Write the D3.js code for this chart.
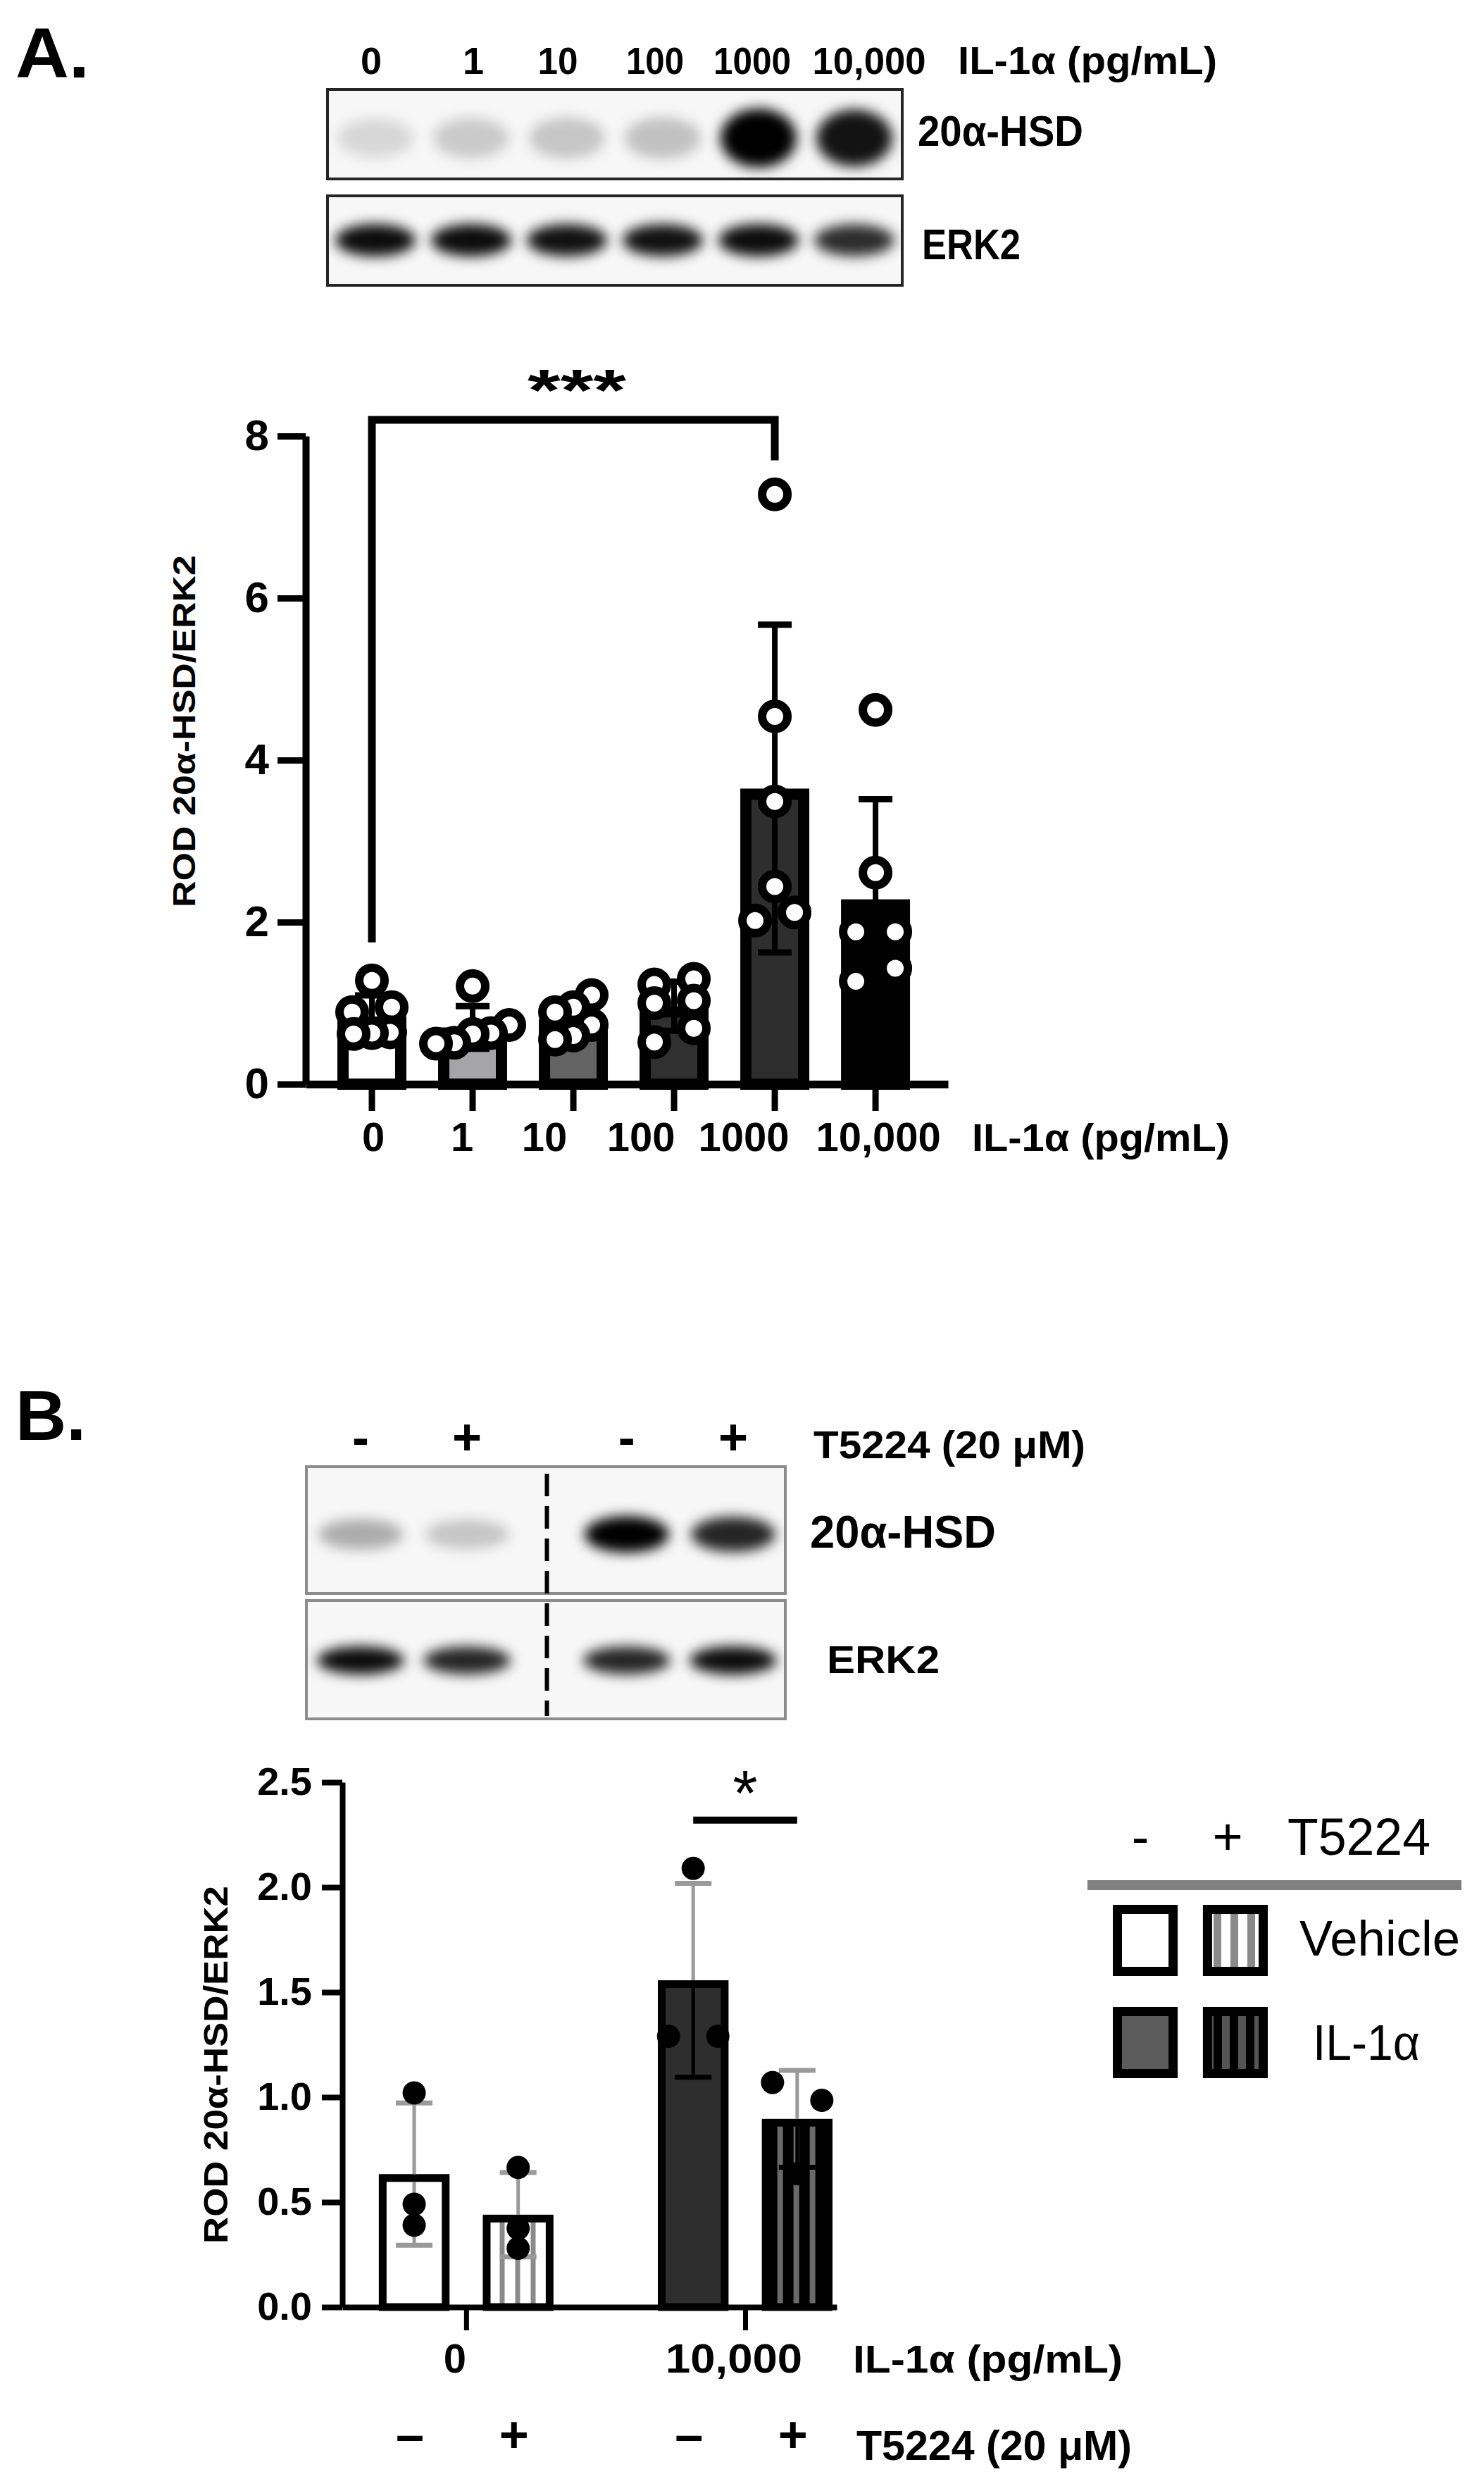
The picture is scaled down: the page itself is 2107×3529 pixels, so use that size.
<!DOCTYPE html>
<html lang="en">
<head>
<meta charset="UTF-8">
<title>20α-HSD / ERK2</title>
<script src="https://d3js.org/d3.v7.min.js"></script>
<style>
  body { margin: 0; background: #fff; }
  svg { display: block; font-family: "Liberation Sans", Arial, sans-serif; }
</style>
</head>
<body>
<div id="chart"></div>
<script>
// ---------- panel A data ----------
const catsA = ["0", "1", "10", "100", "1000", "10,000"];
const pointsA = [
  [1.28, 0.95, 0.89, 0.64, 0.63, 0.62],
  [1.21, 0.73, 0.63, 0.62, 0.51, 0.50],
  [1.10, 0.95, 0.89, 0.73, 0.60, 0.55],
  [1.30, 1.23, 1.03, 1.00, 0.69, 0.52],
  [7.28, 4.54, 3.49, 2.44, 2.12, 2.02],
  [4.62, 2.61, 1.88, 1.88, 1.43, 1.27]
];
const fillsA = ["#ffffff", "#a4a4a9", "#636363", "#303030", "#2e2e2e", "#000000"];
const ticksA = [0, 2, 4, 6, 8];
const hsdA = [0.13, 0.18, 0.2, 0.22, 1.0, 0.92];   // band darkness, blot A
const erkA = [0.95, 0.95, 0.93, 0.93, 0.95, 0.82];
const bracketA = { from: "0", to: "1000", top: 8.2, leftEnd: 1.75, rightEnd: 7.7, label: "***" };

// ---------- panel B data ----------
const groupsB = ["0", "10,000"];
const treatB = ["-", "+"];
const condB = [["0", "-"], ["0", "+"], ["10,000", "-"], ["10,000", "+"]];
const pointsB = [
  [1.02, 0.49, 0.39],
  [0.665, 0.375, 0.28],
  [2.09, 1.29, 1.29],
  [1.07, 0.985, 0.635]
];
const ticksB = [0, 0.5, 1.0, 1.5, 2.0, 2.5];
const hsdB = [0.3, 0.2, 1.0, 0.85];
const erkB = [0.95, 0.85, 0.85, 0.95];
const sigB = { group: "10,000", y: 2.32, starY: 2.51, label: "*" };
const legendRows = ["Vehicle", "IL-1α"];

const W = 2107, H = 3529;
const svg = d3.select("#chart").append("svg")
  .attr("width", W).attr("height", H).attr("viewBox", `0 0 ${W} ${H}`);
const defs = svg.append("defs");
defs.append("filter").attr("id", "blur")
  .attr("x", "-50%").attr("y", "-50%").attr("width", "200%").attr("height", "200%")
  .append("feGaussianBlur").attr("stdDeviation", 9);

function stripes(id, bg, fg, period, sw, x0) {
  const p = defs.append("pattern").attr("id", id)
    .attr("patternUnits", "userSpaceOnUse").attr("width", period).attr("height", 10)
    .attr("patternTransform", `translate(${x0},0)`);
  p.append("rect").attr("width", period).attr("height", 10).attr("fill", bg);
  p.append("rect").attr("width", sw).attr("height", 10).attr("fill", fg);
  return `url(#${id})`;
}

function label(g, str, x, y, o = {}) {
  const t = g.append("text").attr("x", x).attr("y", y).text(str)
    .attr("font-size", o.size || 56)
    .attr("font-weight", o.weight || "bold")
    .attr("text-anchor", o.anchor || "start")
    .attr("fill", "#000");
  if (o.width) t.attr("textLength", o.width).attr("lengthAdjust", "spacingAndGlyphs");
  if (o.rotate) t.attr("transform", `rotate(-90,${x},${y})`);
  return t;
}

// group points that sit at nearly the same height and spread them sideways
function spread(vals, y, thresh, step, dir) {
  const sorted = vals.slice().sort((a, b) => b - a);
  const groups = [];
  sorted.forEach(v => {
    const g = groups[groups.length - 1];
    if (g && Math.abs(y(g[0]) - y(v)) < thresh) g.push(v); else groups.push([v]);
  });
  const out = [];
  groups.forEach(g => {
    const s = g.length === 2 ? step.pair : step.many;
    g.forEach((v, k) => out.push({ v, dx: dir * ((g.length - 1) / 2 - k) * s }));
  });
  return out;
}

function blot(g, id, box, xs, vals, cy, rx, ry0, ryGain, border) {
  defs.append("clipPath").attr("id", id).append("rect")
    .attr("x", box.x).attr("y", box.y).attr("width", box.w).attr("height", box.h);
  g.append("rect").attr("x", box.x).attr("y", box.y).attr("width", box.w).attr("height", box.h)
    .attr("fill", "#f7f7f7");
  g.append("g").attr("clip-path", `url(#${id})`)
    .append("g").attr("filter", "url(#blur)")
    .selectAll("ellipse").data(vals).join("ellipse")
    .attr("cx", (d, i) => xs[i]).attr("cy", cy)
    .attr("rx", rx).attr("ry", d => ry0 + ryGain * d)
    .attr("fill", "#000").attr("fill-opacity", d => d);
  g.append("rect").attr("x", box.x).attr("y", box.y).attr("width", box.w).attr("height", box.h)
    .attr("fill", "none").attr("stroke", border.color).attr("stroke-width", border.w);
}

function styleAxis(ax, lineW, tickW, size) {
  ax.attr("font-family", null).attr("font-size", size).attr("font-weight", "bold");
  ax.select(".domain").attr("stroke", "#000").attr("stroke-width", lineW);
  ax.selectAll(".tick line").attr("stroke", "#000").attr("stroke-width", tickW);
  ax.selectAll(".tick text").attr("fill", "#000");
}

// ================= PANEL A =================
const gA = svg.append("g");
label(gA, "A.", 22, 110, { size: 100, width: 105 });

const laneA = d3.scaleBand().domain(d3.range(catsA.length)).range([465, 1281]);
const laneXA = catsA.map((c, i) => laneA(i) + laneA.bandwidth() / 2);
// lane captions sit a little off the lane centres in the original
const headNudgeA = [-6, 3, -13, -11, -9, 21];
const headWidthA = [null, null, 57, 82, 110, 161];
catsA.forEach((c, i) => label(gA, c, laneXA[i] + headNudgeA[i], 105,
  { size: 54, anchor: "middle", width: headWidthA[i] }));
label(gA, "IL-1α (pg/mL)", 1360, 105, { size: 56, width: 368 });

blot(gA, "clipA1", { x: 465, y: 127, w: 816, h: 127 }, laneXA, hsdA, 196, 54, 26, 16, { color: "#262626", w: 4 });
blot(gA, "clipA2", { x: 465, y: 278, w: 816, h: 127 }, laneXA, erkA, 341, 57, 21, 2, { color: "#262626", w: 4 });
label(gA, "20α-HSD", 1303, 207, { size: 62, width: 235 });
label(gA, "ERK2", 1309, 368, { size: 62, width: 140 });

const xA = d3.scaleBand().domain(catsA).range([434, 1346])
  .paddingInner(0.315).paddingOuter(0.346).align(0.455);
const yA = d3.scaleLinear().domain([0, 8]).range([1539, 619]);
const bwA = xA.bandwidth();
const statsA = pointsA.map(p => ({ m: d3.mean(p), sd: d3.deviation(p) }));
const swA = 16;

gA.append("g").selectAll("rect").data(catsA).join("rect")
  .attr("x", c => xA(c) + swA / 2)
  .attr("y", (c, i) => yA(statsA[i].m) + swA / 2)
  .attr("width", bwA - swA)
  .attr("height", (c, i) => yA(0) - yA(statsA[i].m) - swA / 2)
  .attr("fill", (c, i) => fillsA[i]).attr("stroke", "#000").attr("stroke-width", swA);

const axYA = gA.append("g").attr("transform", "translate(434,0)")
  .call(d3.axisLeft(yA).tickValues(ticksA).tickSize(40).tickPadding(12).tickSizeOuter(0));
styleAxis(axYA, 10, 9, 62);
const axXA = gA.append("g").attr("transform", `translate(0,${yA(0)})`)
  .call(d3.axisBottom(xA).tickSize(38).tickSizeOuter(0).tickFormat(""));
styleAxis(axXA, 11, 9, 58);

const nudgeA = [2, -15, -41, -47, -44, 4];
catsA.forEach((c, i) => label(gA, c, xA(c) + bwA / 2 + nudgeA[i], 1634, { size: 58, anchor: "middle" }));
label(gA, "IL-1α (pg/mL)", 1380, 1634, { size: 56, width: 366 });
label(gA, "ROD 20α-HSD/ERK2", 277, 1038, { size: 44, width: 500, anchor: "middle", rotate: true });

// error bars A
const errA = gA.append("g").attr("stroke", "#000");
catsA.forEach((c, i) => {
  const cx = xA(c) + bwA / 2, s = statsA[i];
  errA.append("line").attr("x1", cx).attr("x2", cx)
    .attr("y1", yA(s.m - s.sd)).attr("y2", yA(s.m + s.sd)).attr("stroke-width", 8);
  [s.m - s.sd, s.m + s.sd].forEach(v => errA.append("line")
    .attr("x1", cx - 24).attr("x2", cx + 24).attr("y1", yA(v)).attr("y2", yA(v))
    .attr("stroke-width", 9));
});

// points A
catsA.forEach((c, i) => {
  const cx = xA(c) + bwA / 2;
  gA.append("g").selectAll("circle")
    .data(spread(pointsA[i], yA, 27, { pair: 56, many: 26 }, 1)).join("circle")
    .attr("cx", d => cx + d.dx).attr("cy", d => yA(d.v)).attr("r", 18)
    .attr("fill", "#fff").attr("stroke", "#000").attr("stroke-width", 12);
});

// significance bracket A
const bx0 = xA(bracketA.from) + bwA / 2, bx1 = xA(bracketA.to) + bwA / 2;
gA.append("path")
  .attr("d", `M${bx0},${yA(bracketA.leftEnd)}V${yA(bracketA.top)}H${bx1}V${yA(bracketA.rightEnd)}`)
  .attr("fill", "none").attr("stroke", "#000").attr("stroke-width", 11);
label(gA, bracketA.label, (bx0 + bx1) / 2 + 5, 583, { size: 84, anchor: "middle", width: 140 });

// ================= PANEL B =================
const gB = svg.append("g");
label(gB, "B.", 22, 2044, { size: 100, width: 100 });

const laneSlots = [0, 1, 2.5, 3.5];
const laneB = d3.scaleLinear().domain([0, 3.5]).range([512, 1041]);
const laneXB = laneSlots.map(s => laneB(s));
condB.forEach((c, i) => label(gB, c[1], laneXB[i], 2065, { size: 72, anchor: "middle" }));
label(gB, "T5224 (20 μM)", 1155, 2070, { size: 56, width: 386 });

blot(gB, "clipB1", { x: 435, y: 2082, w: 680, h: 180 }, laneXB, hsdB, 2178, 60, 20, 6, { color: "#8c8c8c", w: 4 });
blot(gB, "clipB2", { x: 435, y: 2272, w: 680, h: 168 }, laneXB, erkB, 2357, 62, 18, 2, { color: "#8c8c8c", w: 4 });
const divX = laneB(1.75);
gB.append("line").attr("x1", divX).attr("x2", divX).attr("y1", 2092).attr("y2", 2436)
  .attr("stroke", "#000").attr("stroke-width", 6).attr("stroke-dasharray", "32 14");
label(gB, "20α-HSD", 1150, 2197, { size: 64, width: 264 });
label(gB, "ERK2", 1174, 2375, { size: 56, width: 160 });

const xB0 = d3.scalePoint().domain(groupsB).range([486, 1188]).padding(0.386).align(0.575);
const xB1 = d3.scaleBand().domain(treatB).range([-124, 124]).paddingInner(0.32);
const yB = d3.scaleLinear().domain([0, 2.5]).range([3275, 2530]);
const bwB = xB1.bandwidth();
const swB = 11;
const statsB = pointsB.map(p => ({ m: d3.mean(p), sd: d3.deviation(p) }));
const leftB = c => xB0(c[0]) + xB1(c[1]);
const midB = c => leftB(c) + bwB / 2;

const fillsB = [
  "#ffffff",
  stripes("stripeL", "#ffffff", "#8a8a8a", 22, 7, leftB(condB[1]) + swB + 13),
  "#2e2e2e",
  stripes("stripeD", "#000000", "#6a6a6a", 23, 8, leftB(condB[3]) + swB + 11)
];
const darkB = [false, false, true, true];

gB.append("g").selectAll("rect").data(condB).join("rect")
  .attr("x", c => leftB(c) + swB / 2)
  .attr("y", (c, i) => yB(statsB[i].m) + swB / 2)
  .attr("width", bwB - swB)
  .attr("height", (c, i) => yB(0) - yB(statsB[i].m) - swB / 2)
  .attr("fill", (c, i) => fillsB[i]).attr("stroke", "#000").attr("stroke-width", swB);

const axYB = gB.append("g").attr("transform", "translate(486,0)")
  .call(d3.axisLeft(yB).tickValues(ticksB).tickFormat(d3.format(".1f"))
    .tickSize(29).tickPadding(14).tickSizeOuter(0));
styleAxis(axYB, 8, 8, 56);
const axXB = gB.append("g").attr("transform", `translate(0,${yB(0)})`)
  .call(d3.axisBottom(xB0).tickSize(33).tickSizeOuter(0).tickFormat(""));
styleAxis(axXB, 8, 7, 56);

groupsB.forEach(gname => label(gB, gname, xB0(gname) - 16, 3368,
  { size: 58, anchor: "middle", width: gname.length > 1 ? 194 : null }));
label(gB, "IL-1α (pg/mL)", 1211, 3368, { size: 56, width: 383 });
condB.forEach(c => label(gB, c[1] === "-" ? "–" : "+", midB(c) - 6, 3481, { size: 72, anchor: "middle" }));
label(gB, "T5224 (20 μM)", 1216, 3492, { size: 60, width: 391 });
label(gB, "ROD 20α-HSD/ERK2", 323, 2931, { size: 48, width: 508, anchor: "middle", rotate: true });

// error bars B
const errB = gB.append("g");
condB.forEach((c, i) => {
  const cx = midB(c), s = statsB[i];
  const lowCol = darkB[i] ? "#000" : "#999";
  errB.append("line").attr("x1", cx).attr("x2", cx).attr("y1", yB(s.m)).attr("y2", yB(s.m + s.sd))
    .attr("stroke", "#9a9a9a").attr("stroke-width", 5);
  errB.append("line").attr("x1", cx).attr("x2", cx).attr("y1", yB(s.m) + swB).attr("y2", yB(s.m - s.sd))
    .attr("stroke", lowCol).attr("stroke-width", 5);
  errB.append("line").attr("x1", cx - 26).attr("x2", cx + 26)
    .attr("y1", yB(s.m + s.sd)).attr("y2", yB(s.m + s.sd)).attr("stroke", "#9a9a9a").attr("stroke-width", 7);
  errB.append("line").attr("x1", cx - 26).attr("x2", cx + 26)
    .attr("y1", yB(s.m - s.sd)).attr("y2", yB(s.m - s.sd)).attr("stroke", lowCol).attr("stroke-width", 7);
});

// points B
condB.forEach((c, i) => {
  gB.append("g").selectAll("circle")
    .data(spread(pointsB[i], yB, 26.5, { pair: 70, many: 35 }, -1)).join("circle")
    .attr("cx", d => midB(c) + d.dx).attr("cy", d => yB(d.v)).attr("r", 16.5)
    .attr("fill", "#000");
});

// significance B
const sx0 = midB([sigB.group, "-"]), sx1 = midB([sigB.group, "+"]);
gB.append("line").attr("x1", sx0).attr("x2", sx1).attr("y1", yB(sigB.y)).attr("y2", yB(sigB.y))
  .attr("stroke", "#000").attr("stroke-width", 10);
label(gB, sigB.label, (sx0 + sx1) / 2, yB(sigB.starY) + 50, { size: 90, anchor: "middle", weight: "normal" });

// legend B
const gL = gB.append("g");
label(gL, "-", 1619, 2633, { size: 74, anchor: "middle", weight: "normal" });
label(gL, "+", 1743, 2633, { size: 74, anchor: "middle", weight: "normal" });
label(gL, "T5224", 1828, 2633, { size: 74, weight: "normal", width: 203 });
gL.append("line").attr("x1", 1544).attr("x2", 2075).attr("y1", 2676).attr("y2", 2676)
  .attr("stroke", "#808080").attr("stroke-width", 14);
const legFills = [
  ["#ffffff", stripes("legL", "#ffffff", "#8a8a8a", 24, 11, 1723)],
  ["#5c5c5c", stripes("legD", "#000000", "#555555", 23, 11, 1735)]
];
const legX = d3.scaleBand().domain(treatB).range([1580, 1800]).paddingInner(0.28);
legendRows.forEach((name, r) => {
  const y0 = 2704 + r * 145;
  treatB.forEach((t, k) => {
    gL.append("rect").attr("x", legX(t) + 6.5).attr("y", y0 + 6.5)
      .attr("width", legX.bandwidth() - 13).attr("height", 88)
      .attr("fill", legFills[r][k]).attr("stroke", "#000").attr("stroke-width", 13);
  });
  label(gL, name, r === 0 ? 1845 : 1864, y0 + (r === 0 ? 72 : 75),
    { size: 70, weight: "normal", width: r === 0 ? 228 : 152 });
});
</script>
</body>
</html>
